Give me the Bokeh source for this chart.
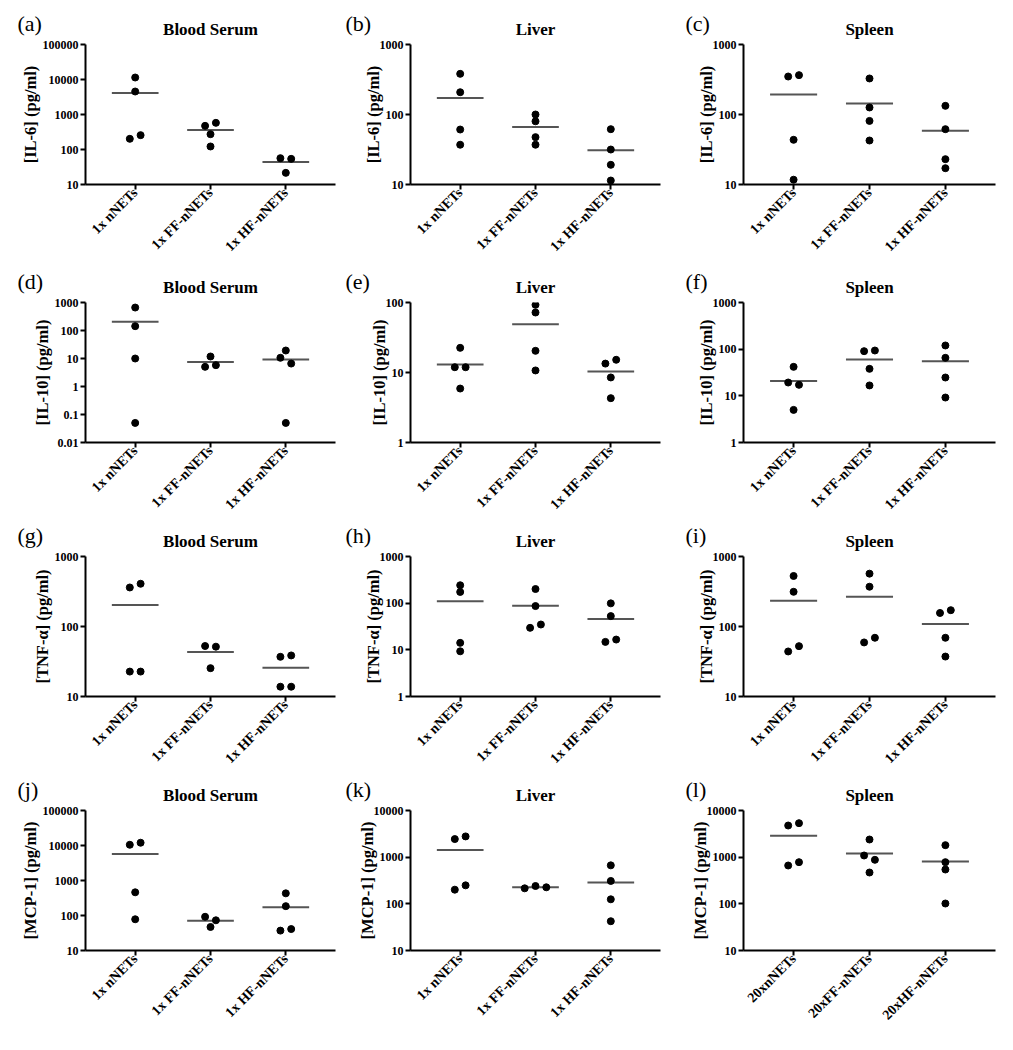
import numpy as np
from bokeh.plotting import figure
from bokeh.layouts import gridplot
from bokeh.models import Range1d, FixedTicker, CustomJSTickFormatter, Title
from bokeh.embed import file_html
from bokeh.resources import INLINE

# ---------------- data ----------------
groups_1x = ["1x nNETs", "1x FF-nNETs", "1x HF-nNETs"]
groups_20x = ["20xnNETs", "20xFF-nNETs", "20xHF-nNETs"]
tissues = ["Blood Serum", "Liver", "Spleen"]
letters = ["(a)", "(b)", "(c)", "(d)", "(e)", "(f)", "(g)", "(h)", "(i)", "(j)", "(k)", "(l)"]
ylabels = ["[IL-6] (pg/ml)", "[IL-10] (pg/ml)", "[TNF-\u03b1] (pg/ml)", "[MCP-1] (pg/ml)"]

il6_serum = [[11400, 4540, 202, 257], [474, 578, 274, 122], [56.5, 54, 21.5]]
il6_liver = [[381, 208, 61, 37], [100, 80, 47.5, 37], [61.7, 31.6, 19.1, 11.4]]
il6_spleen = [[349, 365, 43.5, 11.7], [327, 126, 81, 42.5], [133, 61.7, 23, 17.1]]

il10_serum = [[661, 143, 10, 0.05], [11.8, 5.04, 5.78], [19.3, 10.6, 6.6, 0.05]]
il10_liver = [[22.5, 11.9, 11.9, 5.9], [92.6, 72, 20.4, 10.7], [13.4, 15.2, 8.5, 4.3]]
il10_spleen = [[41.8, 19.3, 17.2, 5.0], [90.6, 93.6, 37.9, 16.7], [120, 65.2, 24.7, 9.2]]

tnf_serum = [[361, 408, 22.7, 22.7], [52.6, 51.5, 25.4], [36.9, 38.6, 13.8, 13.8]]
tnf_liver = [[242, 174, 14.1, 9.3], [201, 86.7, 29.6, 34.9], [99, 52.8, 14.8, 16.6]]
tnf_spleen = [[527, 313, 44, 52.4], [569, 370, 59.2, 69], [156, 171, 69, 37.2]]

mcp1_serum = [[10500, 12000, 460, 78], [92, 73, 47], [430, 185, 37, 41]]
mcp1_liver = [[2443, 2785, 201, 249], [215, 241, 226], [668, 309, 125, 42.4]]
mcp1_spleen = [[4770, 5350, 663, 781], [2390, 1086, 877, 469], [1808, 781, 544, 101.6]]

# y-axis limits (decade exponents)
ylims = [(1, 5), (1, 3), (1, 3),
         (-2, 3), (0, 2), (0, 3),
         (1, 3), (0, 3), (1, 3),
         (1, 5), (1, 4), (1, 4)]

panel_data = [il6_serum, il6_liver, il6_spleen,
              il10_serum, il10_liver, il10_spleen,
              tnf_serum, tnf_liver, tnf_spleen,
              mcp1_serum, mcp1_liver, mcp1_spleen]

# ---------------- layout ----------------
FH = 140
XS, XE = -0.66, 2.66
col_left = [85, 70, 71]
col_right = [5, 12, 10]
col_fw = [250, 250, 252]
col_label_standoff = [0, -6, -6]
row_top = [44, 36, 36, 36]
row_bottom = [82, 77, 77, 84]
label_dx = [-68, -65, -58]
FONT = "Liberation Serif"


def swarm_offsets(vals, px_per_dec, thresh=6.2, spacing=10.8):
    p = np.log10(np.asarray(vals, dtype=float)) * px_per_dec
    order = np.argsort(-p, kind="stable")
    clusters = [[order[0]]]
    for a, b in zip(order[:-1], order[1:]):
        if abs(p[a] - p[b]) <= thresh:
            clusters[-1].append(b)
        else:
            clusters.append([b])
    offs = np.zeros(len(vals))
    for cl in clusters:
        cl = sorted(cl)
        n = len(cl)
        for k, idx in enumerate(cl):
            offs[idx] = (k - (n - 1) / 2) * spacing
    return offs


figs = []
for i in range(12):
    r, c = divmod(i, 3)
    lo, hi = ylims[i]
    cats = groups_20x if i == 11 else groups_1x
    fw = col_fw[c]
    p = figure(frame_width=fw, frame_height=FH,
               x_range=Range1d(XS, XE), y_range=Range1d(10.0 ** lo, 10.0 ** hi),
               y_axis_type="log", output_backend="svg", toolbar_location=None,
               min_border_left=col_left[c], min_border_right=col_right[c],
               min_border_top=row_top[r], min_border_bottom=row_bottom[r])
    p.outline_line_color = None
    p.grid.visible = False
    p.background_fill_color = "white"
    p.title.text = ""

    t_tissue = Title(text=tissues[c], align="center", text_font=FONT,
                     text_font_size="17px", text_font_style="bold",
                     text_color="black", standoff=12)
    p.add_layout(t_tissue, "above")
    t_letter = Title(text=letters[i], align="left", offset=label_dx[c], text_font=FONT,
                     text_font_size="22px", text_font_style="normal",
                     text_color="black", standoff=-48)
    p.add_layout(t_letter, "above")

    ax = p.xaxis[0]
    ax.ticker = FixedTicker(ticks=[0, 1, 2])
    ax.formatter = CustomJSTickFormatter(args=dict(cats=cats),
                                         code="return cats[Math.round(tick)];")
    ax.major_label_orientation = np.pi / 4
    ax.major_label_text_font = FONT
    ax.major_label_text_font_size = "14px"
    ax.major_label_text_font_style = "bold"
    ax.major_label_standoff = 1

    ay = p.yaxis[0]
    ay.ticker = FixedTicker(ticks=[10.0 ** k if k >= 0 else float(f"1e{k}") for k in range(lo, hi + 1)])
    ay.formatter = CustomJSTickFormatter(code="return tick >= 1 ? Math.round(tick).toString() : tick.toString();")
    ay.major_label_text_font = FONT
    ay.major_label_text_font_size = "12px"
    ay.major_label_text_font_style = "bold"
    ay.major_label_standoff = 2
    ay.axis_label = ylabels[r]
    ay.axis_label_text_font = FONT
    ay.axis_label_text_font_size = "16.5px"
    ay.axis_label_text_font_style = "bold"
    ay.axis_label_standoff = col_label_standoff[c]

    for a in (ax, ay):
        a.axis_line_width = 2
        a.axis_line_color = "black"
        a.major_tick_line_width = 2
        a.major_tick_line_color = "black"
        a.major_tick_out = 5
        a.major_tick_in = 0
        a.minor_tick_line_color = None
        a.major_label_text_color = "black"
        a.axis_label_text_color = "black"

    px_per_dec = FH / (hi - lo)
    px_per_cat = fw / (XE - XS)
    xs, ys, x0, x1, ym = [], [], [], [], []
    for k, vals in enumerate(panel_data[i]):
        offs = swarm_offsets(vals, px_per_dec)
        xs.extend(k + offs / px_per_cat)
        ys.extend(vals)
        x0.append(k - 0.31)
        x1.append(k + 0.31)
        ym.append(float(np.mean(vals)))
    p.segment(x0=x0, y0=ym, x1=x1, y1=ym, line_color="#555555", line_width=2)
    p.scatter(x=xs, y=ys, size=7, color="black")
    figs.append(p)

grid = gridplot([figs[0:3], figs[3:6], figs[6:9], figs[9:12]], toolbar_location=None)

open("out.html", "w").write(file_html(grid, INLINE))
